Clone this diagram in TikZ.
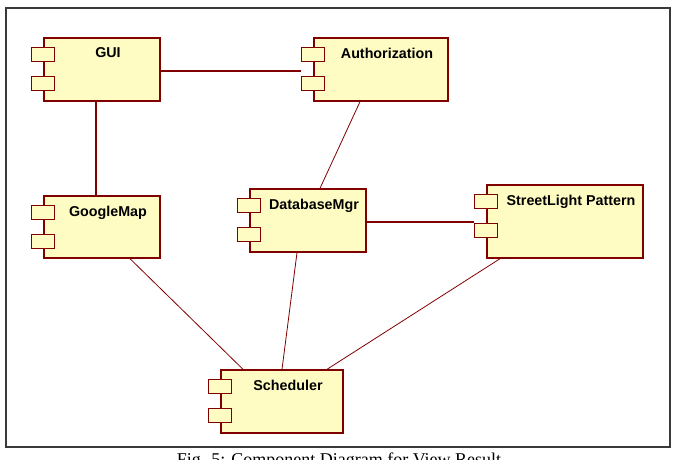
\documentclass[tikz,border=0pt]{standalone}
\usepackage{fontspec}
\setmainfont{Liberation Sans}
\newfontfamily\capfont{Liberation Serif}
\usetikzlibrary{positioning}
\definecolor{UmlRed}{HTML}{800000}
\definecolor{UmlFill}{HTML}{FEFCC2}
\definecolor{FrameGray}{HTML}{3A3A3A}
\tikzset{
  comp/.style={draw=UmlRed, fill=UmlFill, line width=1.4pt, minimum width=116pt, minimum height=63pt, inner sep=0pt, label={[compname]north:#1}},
  compname/.style={anchor=north, inner sep=0pt, xshift=6pt, yshift=-10.5pt, font=\bfseries\fontsize{14.3}{16}\selectfont},
  port/.style={draw=UmlRed, fill=UmlFill, line width=1.4pt},
  link/.style={draw=UmlRed, line width=2pt},
  dep/.style={draw=UmlRed, line width=0.8pt}
}

\begin{document}
\begin{tikzpicture}[x=1pt, y=-1pt]
\useasboundingbox (0,0) rectangle (674,460);
\draw[FrameGray, line width=1.3pt] (6,8) rectangle (670,447);
% components
\node[comp=GUI] (gui) at (102,69.5) {};
\node[comp=Authorization, minimum width=134pt] (auth) at (381,69.5) {};
\node[comp=GoogleMap, minimum height=62pt] (gmap) at (102,227) {};
\node[comp=DatabaseMgr] (db) at (308,220.5) {};
\node[comp=StreetLight Pattern, minimum width=156pt, minimum height=73pt] (sl) at (565,221.5) {};
\node[comp=Scheduler, minimum width=122pt] (sched) at (282,401.5) {};
\foreach \c in {gui,auth,gmap,db,sl,sched}{
  \draw[port] ([xshift=-12pt,yshift=-10pt]\c.north west) rectangle ++(23pt,-14pt);
  \draw[port] ([xshift=-12pt,yshift=-39pt]\c.north west) rectangle ++(23pt,-14pt);
}
% connectors
\draw[link] ([yshift=-1.5pt]gui.east) -- ([xshift=-12pt,yshift=-1.5pt]auth.west);
\draw[link] ([xshift=-6pt]gui.south) -- ([xshift=-6pt]gmap.north);
\draw[link] ([yshift=-1pt]db.east) -- ([xshift=-12pt]sl.west);
\draw[dep] ([xshift=-21pt]auth.south) -- ([xshift=12pt]db.north);
\draw[dep] ([xshift=28pt]gmap.south) -- ([xshift=-39pt]sched.north);
\draw[dep] ([xshift=-11pt]db.south) -- (sched.north);
\draw[dep] ([xshift=-65pt]sl.south) -- ([xshift=45pt]sched.north);
\node[anchor=base, font=\capfont\fontsize{18}{20}\selectfont] (caption) at (339,465) {Fig. 5: Component Diagram for View Result};
\end{tikzpicture}
\end{document}
